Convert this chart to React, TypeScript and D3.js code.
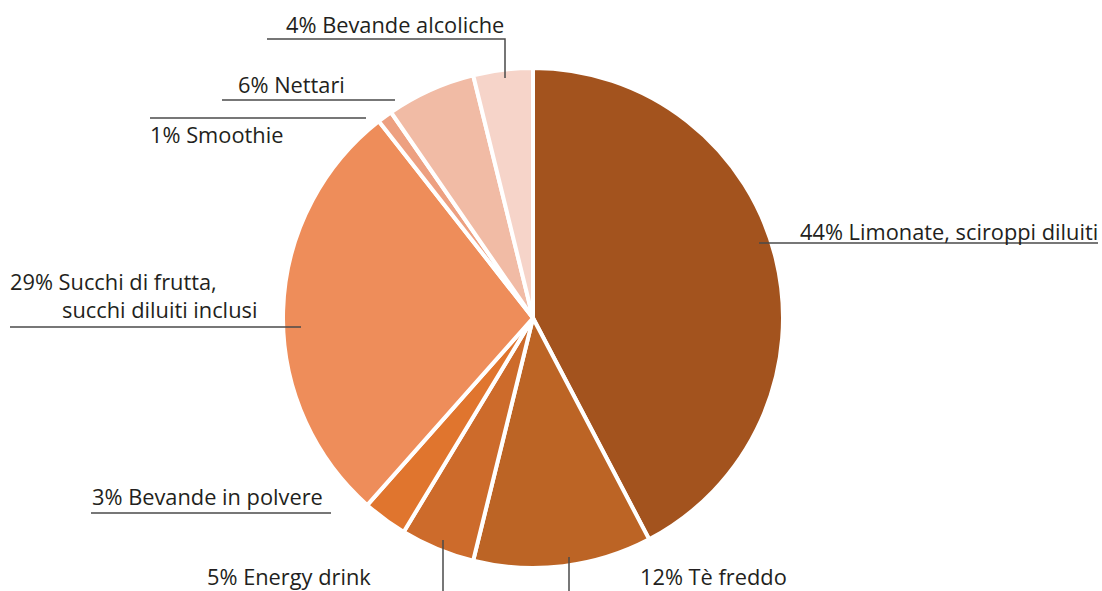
import React from "react";
import * as d3 from "d3";

const categories = [
  "Limonate, sciroppi diluiti",
  "Tè freddo",
  "Energy drink",
  "Bevande in polvere",
  "Succhi di frutta, succhi diluiti inclusi",
  "Smoothie",
  "Nettari",
  "Bevande alcoliche",
];
const values = [44, 12, 5, 3, 29, 1, 6, 4];
const colors = ["#A3531E", "#BC6425", "#CD6B2B", "#E0752E", "#EE8D5A", "#EDA081", "#F1BBA5", "#F6D4C9"];

// label layout: text lines, text anchor position, leader polyline
const labelLayout = [
  { lines: ["44% Limonate, sciroppi diluiti"], x: 800, y: 240, path: [[759, 243], [1098, 243]] },
  { lines: ["12% Tè freddo"], x: 640, y: 585, path: [[569, 557], [569, 591]] },
  { lines: ["5% Energy drink"], x: 207, y: 585, path: [[443, 540], [443, 591]] },
  { lines: ["3% Bevande in polvere"], x: 92, y: 505, path: [[91, 513], [331, 513]] },
  { lines: ["29% Succhi di frutta,", "succhi diluiti inclusi"], x: 10, y: 290, dx2: 52, path: [[10, 327], [301, 327]] },
  { lines: ["1% Smoothie"], x: 150, y: 143, path: [[150, 118], [366, 118]] },
  { lines: ["6% Nettari"], x: 238, y: 93, path: [[222, 100], [395, 100]] },
  { lines: ["4% Bevande alcoliche"], x: 286, y: 33, path: [[267, 39], [505, 39], [505, 78]] },
];

export default function App() {
  const W = 1102, H = 591;
  const cx = 533, cy = 318, R = 250;
  const pie = d3.pie<number>().sort(null).value((d) => d);
  const arcs = pie(values);
  const arcGen = d3.arc<d3.PieArcDatum<number>>().innerRadius(0).outerRadius(R);
  const line = d3.line();
  return (
    <svg width={W} height={H} style={{ position: "absolute", left: 0, top: 0, background: "#fff" }}>
      <g transform={`translate(${cx},${cy})`}>
        {arcs.map((a, i) => (
          <path key={i} d={arcGen(a) || ""} fill={colors[i]} stroke="#fff" strokeWidth={4} strokeLinejoin="round" />
        ))}
      </g>
      {labelLayout.map((l, i) => (
        <g key={i}>
          <path d={line(l.path as [number, number][]) || ""} fill="none" stroke="#4a4a4a" strokeWidth={1.5} />
          {l.lines.map((t, j) => (
            <text
              key={j}
              x={l.x + (j > 0 ? (l as any).dx2 || 0 : 0)}
              y={l.y + j * 28}
              fontFamily="'Open Sans', sans-serif"
              fontSize={21.8}
              fill="#231F20"
            >
              {t}
            </text>
          ))}
        </g>
      ))}
    </svg>
  );
}
